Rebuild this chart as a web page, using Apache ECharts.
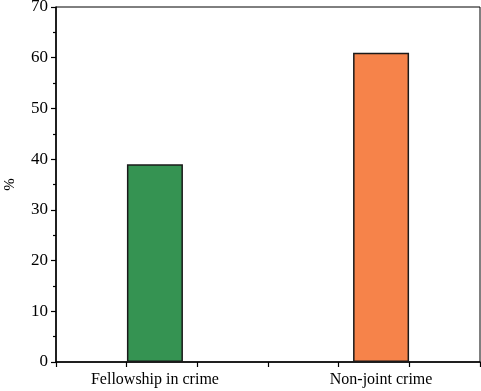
<!DOCTYPE html>
<html>
<head>
<meta charset="utf-8">
<script src="https://cdn.jsdelivr.net/npm/echarts@6/dist/echarts.min.js"></script>
<style>html,body{margin:0;padding:0;background:#fff}#c{width:481px;height:391px}</style>
</head>
<body>
<div id="c"></div>
<script>
const categories = ["Fellowship in crime", "Non-joint crime"];
const positions = [1, 2];
const values = [39, 61];
const colors = ["#359352", "#F6834A"];
const yTicks = [0, 10, 20, 30, 40, 50, 60, 70];

const chart = echarts.init(document.getElementById('c'), null, {renderer: 'canvas'});
const font = '"Liberation Serif", "DejaVu Serif", serif';
const xTickVals = [];
for (let i = 0; i <= 6; i++) xTickVals.push(0.5625 + i * 0.3125);

chart.setOption({
  animation: false,
  backgroundColor: '#fff',
  grid: {left: 56, right: 1, top: 7, bottom: 29, show: true, borderColor: '#000', borderWidth: 1,
         containLabel: false, outerBoundsMode: 'none'},
  xAxis: {
    type: 'value', min: 0.5625, max: 2.4375,
    splitLine: {show: false},
    axisLine: {show: true, onZero: false, lineStyle: {color: '#000', width: 1.5}},
    axisTick: {show: true, length: 5, lineStyle: {color: '#000', width: 1.2}, customValues: xTickVals},
    axisLabel: {
      customValues: positions,
      formatter: v => categories[positions.indexOf(v)] || '',
      color: '#000', fontFamily: font, fontSize: 16, margin: 10
    }
  },
  yAxis: {
    type: 'value', min: 0, max: 70, interval: 10,
    name: '%', nameLocation: 'middle', nameGap: 38, nameRotate: 90,
    nameTextStyle: {color: '#000', fontFamily: font, fontSize: 15},
    splitLine: {show: false},
    minorTick: {show: true, splitNumber: 2, length: 3, lineStyle: {color: '#000', width: 1.2}},
    axisLine: {show: true, lineStyle: {color: '#000', width: 1.5}},
    axisTick: {show: true, length: 5, lineStyle: {color: '#000', width: 1.2}},
    axisLabel: {
      formatter: v => yTicks.includes(v) ? String(v) : '',
      color: '#000', fontFamily: font, fontSize: 17, margin: 8
    }
  },
  series: [{
    type: 'bar',
    barWidth: 56,
    data: positions.map((p, i) => ({
      value: [p, values[i]],
      itemStyle: {color: colors[i], borderColor: '#1a1a1a', borderWidth: 1.5}
    }))
  }]
});
</script>
</body>
</html>
